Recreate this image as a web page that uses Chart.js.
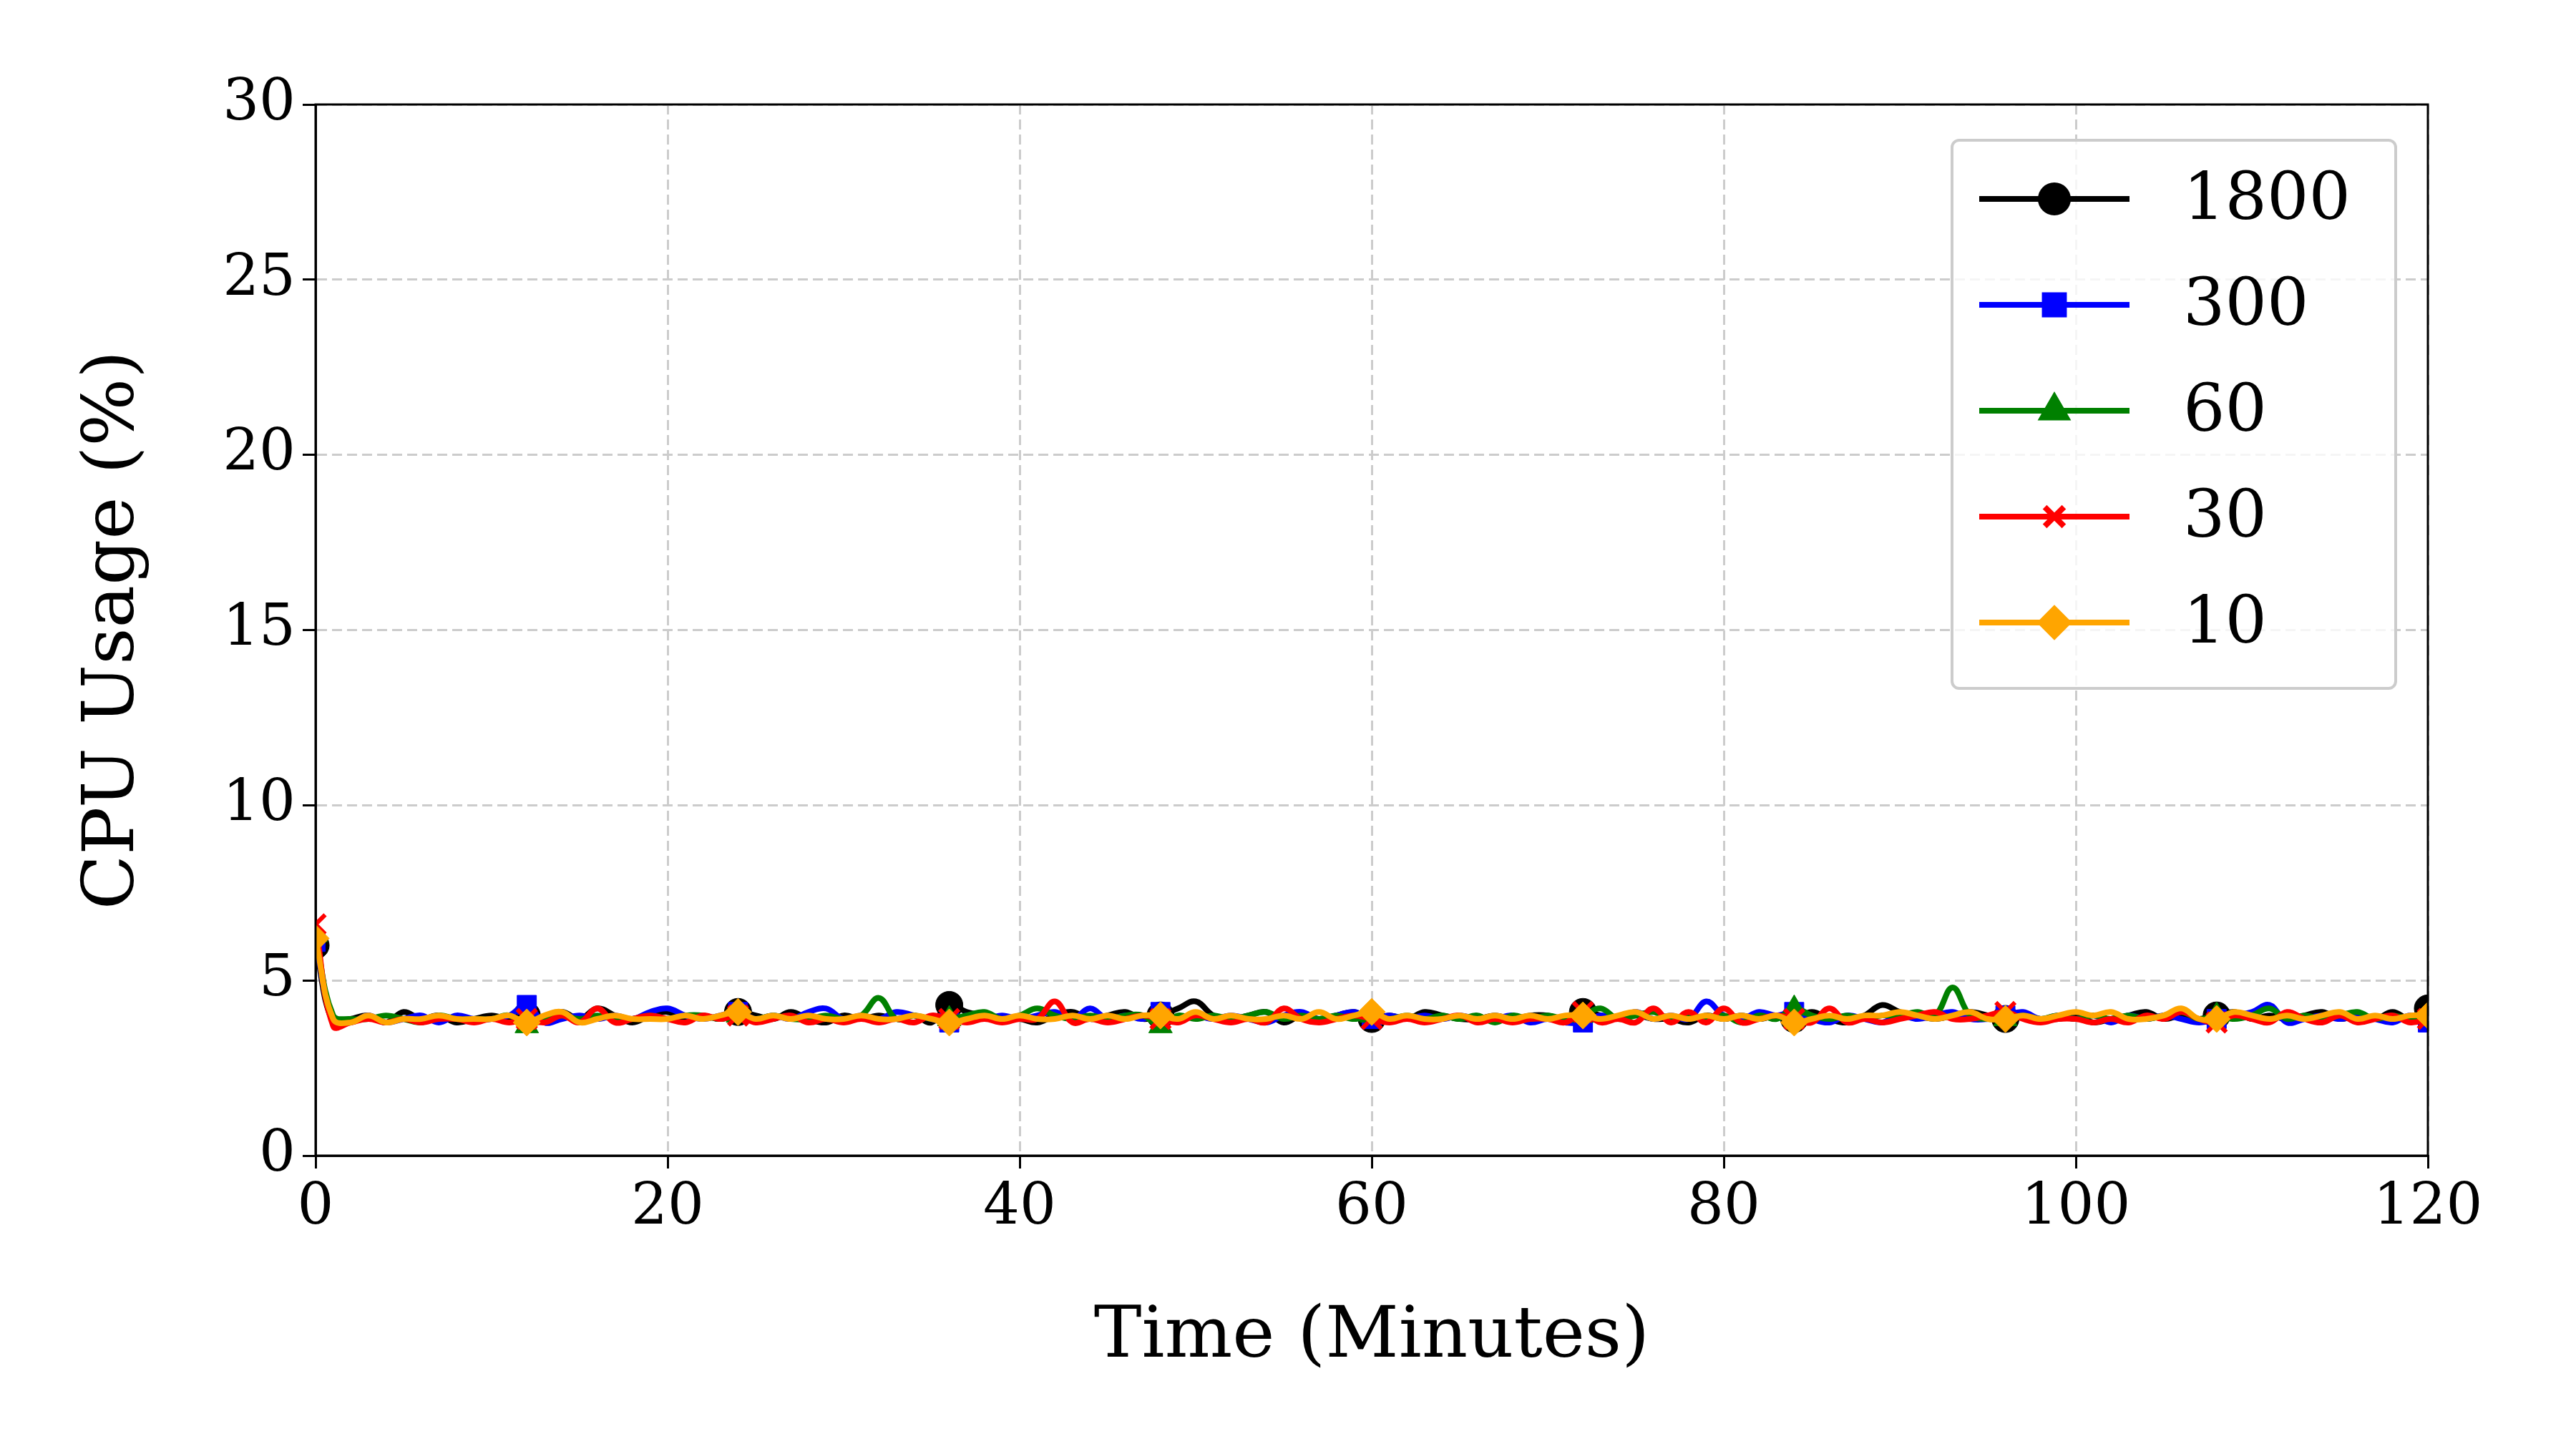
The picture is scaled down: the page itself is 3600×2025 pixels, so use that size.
<!DOCTYPE html>
<html>
<head>
<meta charset="utf-8">
<script src="https://cdn.jsdelivr.net/npm/chart.js@4"></script>
<style>
  html, body { margin: 0; padding: 0; background: #fff; }
  #wrap { width: 3600px; height: 2025px; }
</style>
</head>
<body>
<div id="wrap"><canvas id="cpu" width="3600" height="2025"></canvas></div>
<script>
var seriesNames = ['1800', '300', '60', '30', '10'];
var seriesColors = ['#000000', '#0000ff', '#008000', '#ff0000', '#ffa500'];
var seriesMarkers = ['circle', 'rect', 'triangle', 'crossRot', 'rectRot'];
var xTicks = [0, 20, 40, 60, 80, 100, 120];
var yTicks = [0, 5, 10, 15, 20, 25, 30];

var cpu1800 = [
  6.0,3.8,3.9,4.0,3.8,4.1,3.9,4.0,3.8,3.9,
  4.0,3.9,4.0,3.9,4.1,3.9,4.2,4.0,3.8,4.0,
  4.1,3.9,4.0,3.9,4.1,4.0,3.9,4.1,3.9,3.8,
  4.0,3.9,4.0,3.9,4.0,3.8,4.3,4.1,4.0,3.9,
  3.9,3.8,4.0,4.1,3.9,4.0,4.1,3.9,4.0,4.2,
  4.4,4.0,3.9,4.0,4.1,3.8,4.0,3.9,4.0,4.1,
  3.9,4.0,3.9,4.1,4.0,3.9,3.9,4.0,3.9,4.0,
  4.0,3.9,4.1,4.0,3.9,4.0,3.9,3.9,3.8,4.0,
  3.9,4.0,3.9,4.0,3.9,4.1,3.9,3.8,4.0,4.3,
  4.1,4.0,3.9,4.0,4.1,4.0,3.9,4.0,3.9,3.9,
  4.0,3.8,3.9,4.0,4.1,3.9,4.0,3.9,4.0,4.1,
  3.9,4.0,3.9,4.0,4.1,3.9,4.0,3.9,4.1,3.9,
  4.2
];
var cpu300 = [
  6.1,3.9,3.8,4.0,3.8,3.9,4.0,3.8,4.0,3.9,
  3.9,4.0,4.3,3.8,3.9,4.0,3.9,4.0,3.9,4.1,
  4.2,4.0,3.9,4.0,4.1,3.9,4.0,3.9,4.1,4.2,
  3.9,4.0,3.9,4.1,4.0,3.9,3.8,4.0,3.9,4.0,
  3.9,4.0,4.1,3.9,4.2,3.9,4.0,3.9,4.1,3.9,
  4.0,3.9,4.0,3.9,3.8,4.0,4.1,3.9,4.0,4.1,
  3.9,4.0,3.9,4.0,3.9,4.0,3.9,3.9,4.0,3.8,
  3.9,3.8,3.8,4.0,3.9,4.1,3.9,4.0,3.9,4.4,
  4.0,3.9,4.1,4.0,4.1,3.9,3.8,4.0,3.9,3.8,
  4.0,3.9,4.0,4.1,3.9,3.9,4.0,4.1,3.9,4.0,
  3.9,4.0,3.8,4.0,3.9,4.0,3.9,3.8,3.9,4.0,
  4.1,4.3,3.8,3.9,4.0,3.9,4.0,3.9,3.8,4.0,
  3.8
];
var cpu60 = [
  6.3,4.0,3.9,3.9,4.0,3.9,3.8,4.0,3.9,3.9,
  3.9,4.0,3.7,3.9,4.0,3.9,4.0,3.9,3.9,4.0,
  3.9,4.0,4.0,3.9,4.0,3.9,4.0,3.9,3.9,4.0,
  3.9,4.0,4.5,3.9,4.0,3.9,3.9,4.0,4.1,3.9,
  4.0,4.2,4.0,3.9,4.0,3.9,4.0,4.0,3.7,4.0,
  3.9,4.0,3.9,4.0,4.1,3.9,4.0,3.9,4.0,3.9,
  4.0,3.9,4.0,3.9,4.0,3.9,4.0,3.8,4.0,3.9,
  4.0,3.9,4.0,4.2,3.9,4.0,4.1,3.9,4.0,3.9,
  4.0,3.8,4.0,3.9,4.2,4.0,3.9,4.0,3.9,4.0,
  4.0,4.1,4.0,4.8,4.0,3.9,3.9,4.0,3.9,4.0,
  3.9,4.0,3.9,4.0,3.9,4.0,4.1,3.9,4.0,3.9,
  4.0,4.2,3.9,4.0,3.9,4.0,4.1,3.9,4.0,3.9,
  4.0
];
var cpu30 = [
  6.6,3.7,3.8,3.9,3.8,3.9,3.8,3.9,3.9,3.8,
  3.9,3.8,3.9,3.8,4.0,3.8,4.2,3.8,3.9,4.0,
  3.9,3.8,4.0,3.9,4.0,3.8,3.9,4.0,3.8,3.9,
  3.8,3.9,3.8,3.9,3.8,4.0,3.9,3.8,3.9,3.8,
  3.9,3.9,4.4,3.8,3.9,3.8,3.9,4.0,3.9,3.8,
  4.0,3.9,3.8,3.9,3.8,4.2,3.9,3.8,3.9,4.0,
  3.9,3.8,3.9,3.8,3.9,4.0,3.8,3.9,3.8,3.9,
  3.9,3.8,4.1,3.8,3.9,3.8,4.2,3.8,4.1,3.8,
  4.2,3.8,3.9,4.0,3.9,3.8,4.2,3.8,3.9,3.8,
  3.9,4.0,4.1,3.9,3.9,4.0,4.1,3.9,3.8,3.9,
  3.9,3.8,3.9,3.8,4.0,3.9,4.1,3.9,3.8,4.0,
  3.9,3.8,4.1,3.9,3.8,4.0,3.8,3.9,4.0,3.8,
  3.9
];
var cpu10 = [
  6.2,3.9,3.8,4.0,3.8,3.9,3.9,4.0,3.9,3.9,
  3.9,4.0,3.8,4.0,4.1,3.8,3.9,4.0,3.9,3.9,
  3.9,4.0,3.9,4.0,4.1,3.9,4.0,3.9,4.0,3.9,
  3.9,4.0,3.9,3.9,4.0,3.9,3.8,3.9,4.0,3.9,
  4.0,3.9,3.9,4.0,3.9,4.0,3.9,4.0,4.0,3.9,
  4.1,3.9,4.0,3.9,3.9,4.0,3.9,4.1,3.9,4.0,
  4.1,3.9,4.0,3.9,3.9,4.0,3.9,4.0,3.9,4.0,
  3.9,4.0,4.0,3.9,4.0,4.1,3.9,4.0,3.9,4.0,
  3.9,4.0,3.9,4.0,3.8,3.9,4.0,3.9,4.0,4.0,
  4.1,4.0,3.9,4.0,4.1,3.9,3.9,4.0,3.9,4.0,
  4.1,4.0,4.1,3.9,3.9,4.0,4.2,3.9,3.9,4.1,
  4.0,3.9,4.0,3.9,4.0,4.1,3.9,4.0,3.9,4.0,
  4.0
];
var allSeries = [cpu1800, cpu300, cpu60, cpu30, cpu10];

var FONT = '"DejaVu Serif", serif';
var PLOT = { left: 441, right: 3393, top: 146, bottom: 1615 };
var TITLE_LEFT = 100, TITLE_BOTTOM = 95;

// marker every 12 minutes
function markerRadius(ctx) {
  return ctx.dataIndex % 12 === 0 ? 19 : 0;
}

var datasets = allSeries.map(function(vals, k) {
  return {
    label: seriesNames[k],
    data: vals.map(function(v, i) { return { x: i, y: v }; }),
    borderColor: seriesColors[k],
    backgroundColor: seriesColors[k],
    borderWidth: 8,
    tension: 0.4,
    pointStyle: seriesMarkers[k],
    pointRadius: markerRadius,
    pointBorderWidth: seriesMarkers[k] === 'crossRot' ? 6 : 1,
    pointBorderColor: seriesColors[k],
    order: 4 - k
  };
});

// legend drawn inside the plot, line + marker like matplotlib
var legendBox = {
  id: 'legendBox',
  afterDraw: function(chart) {
    var c = chart.ctx;
    var x0 = 2728, y0 = 196, w = 620, h = 766;
    c.save();
    c.fillStyle = 'rgba(255,255,255,0.8)';
    c.strokeStyle = '#cccccc';
    c.lineWidth = 4;
    c.beginPath();
    c.roundRect(x0, y0, w, h, 10);
    c.fill();
    c.stroke();
    c.font = '92px ' + FONT;
    c.textBaseline = 'middle';
    for (var k = 0; k < seriesNames.length; k++) {
      var cy = y0 + 82 + k * 148;
      c.strokeStyle = seriesColors[k];
      c.lineWidth = 8;
      c.beginPath();
      c.moveTo(x0 + 38, cy);
      c.lineTo(x0 + 248, cy);
      c.stroke();
      Chart.helpers.drawPoint(c, {
        pointStyle: seriesMarkers[k], radius: 19, rotation: 0,
        borderWidth: seriesMarkers[k] === 'crossRot' ? 6 : 1
      }, x0 + 143, cy);
      c.fillStyle = seriesColors[k];
      c.fill();
      c.fillStyle = '#000';
      c.fillText(seriesNames[k], x0 + 323, cy + 4);
    }
    c.restore();
  }
};

new Chart(document.getElementById('cpu').getContext('2d'), {
  type: 'line',
  data: { datasets: datasets },
  options: {
    responsive: false,
    animation: false,
    layout: { padding: { top: PLOT.top, right: 3600 - PLOT.right, left: TITLE_LEFT, bottom: TITLE_BOTTOM } },
    plugins: { legend: { display: false }, tooltip: { enabled: false } },
    scales: {
      x: {
        type: 'linear', min: 0, max: 120,
        afterBuildTicks: function(a) { a.ticks = xTicks.map(function(v) { return { value: v }; }); },
        afterFit: function(a) { a.height = 2025 - PLOT.bottom - TITLE_BOTTOM; },
        grid: { color: '#cccccc', lineWidth: 3, tickColor: '#000', tickLength: 18, tickWidth: 3 },
        border: { color: '#000', width: 3, dash: [14, 7] },
        ticks: { color: '#000', font: { family: FONT, size: 80 }, padding: 8, maxRotation: 0 },
        title: { display: true, text: 'Time (Minutes)', color: '#000', font: { family: FONT, size: 100 }, padding: 0 }
      },
      y: {
        min: 0, max: 30,
        afterBuildTicks: function(a) { a.ticks = yTicks.map(function(v) { return { value: v }; }); },
        afterFit: function(a) { a.width = PLOT.left - TITLE_LEFT; },
        grid: { color: '#cccccc', lineWidth: 3, tickColor: '#000', tickLength: 18, tickWidth: 3 },
        border: { color: '#000', width: 3, dash: [14, 7] },
        ticks: { color: '#000', font: { family: FONT, size: 80 }, padding: 10 },
        title: { display: true, text: 'CPU Usage (%)', color: '#000', font: { family: FONT, size: 100 }, padding: 0 }
      }
    }
  },
  plugins: [legendBox, {
    id: 'frame',
    afterDraw: function(chart) {
      var a = chart.chartArea, c = chart.ctx;
      c.save();
      c.strokeStyle = '#000';
      c.lineWidth = 3;
      c.strokeRect(a.left, a.top, a.right - a.left, a.bottom - a.top);
      c.restore();
    }
  }]
});
</script>
</body>
</html>
